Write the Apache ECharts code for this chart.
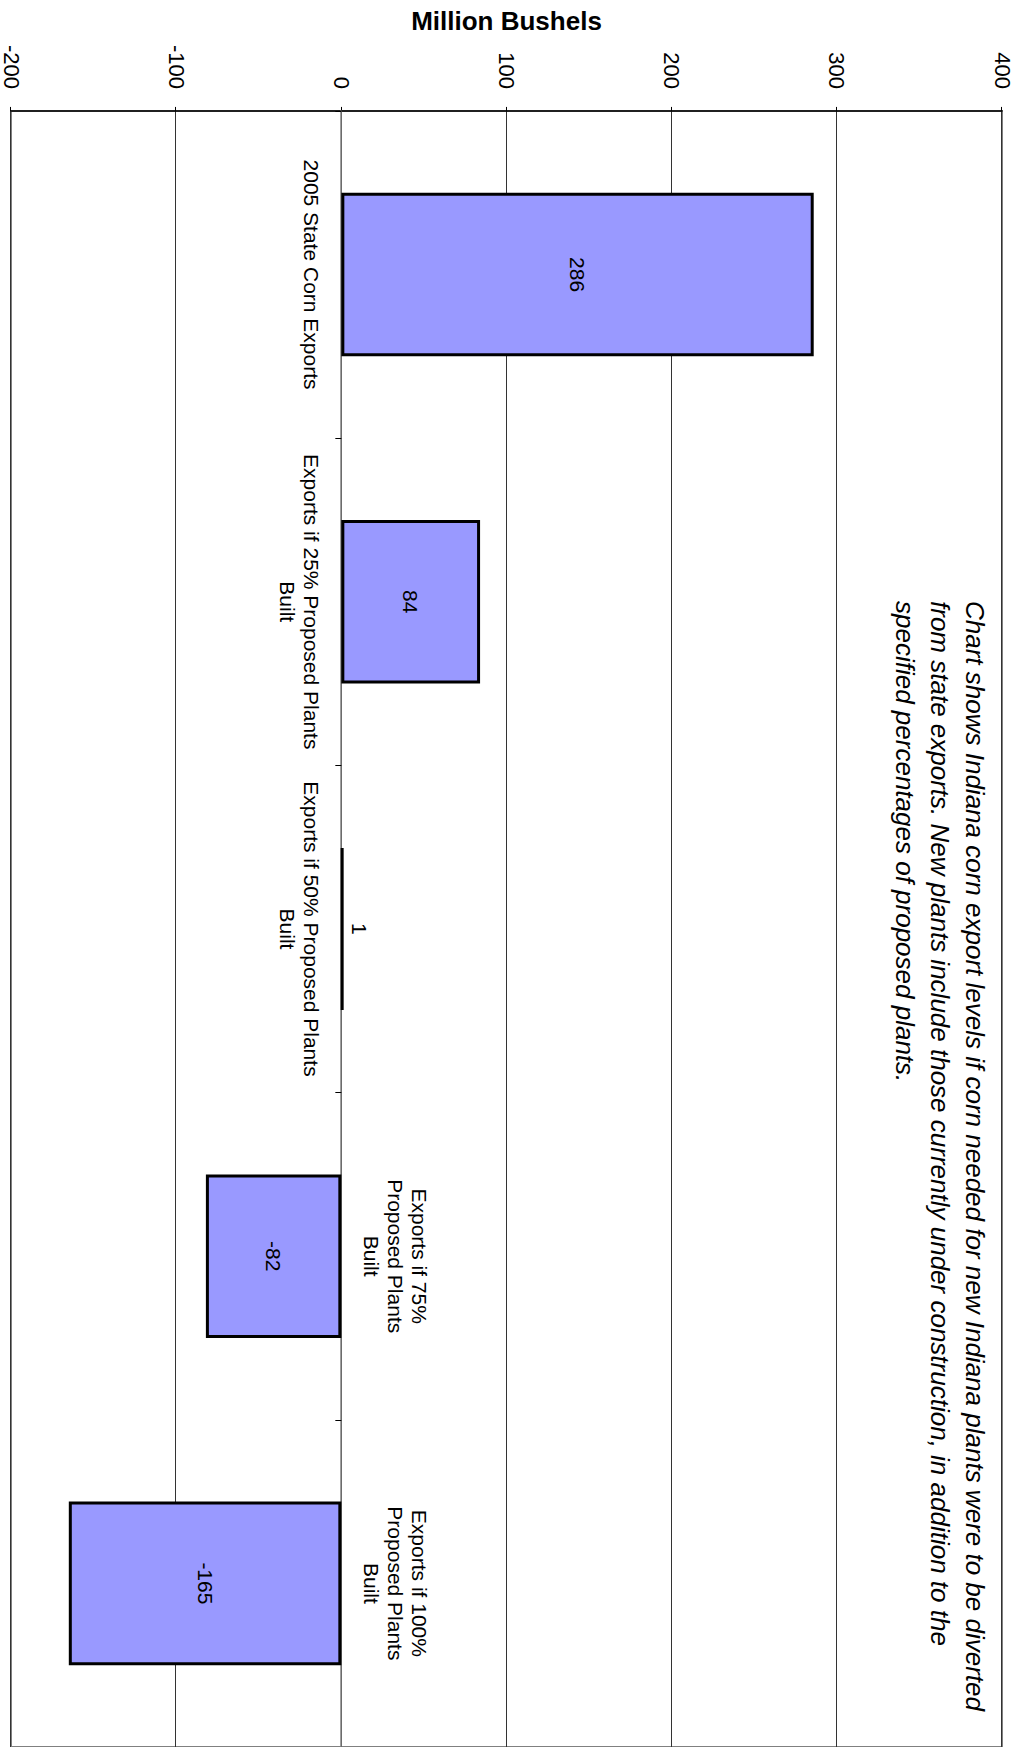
<!DOCTYPE html>
<html><head><meta charset="utf-8">
<script src="https://cdn.jsdelivr.net/npm/echarts@6/dist/echarts.min.js"></script>
<style>
html,body{margin:0;padding:0;background:#fff;overflow:hidden;width:1022px;height:1747px;}
#wrap{position:absolute;left:0;top:0;width:1747px;height:1022px;transform-origin:0 0;transform:translateX(1022px) rotate(90deg);}
</style></head><body>
<div id="wrap"></div>
<script>
// ---- data ----
const categories = [
  '2005 State Corn Exports',
  'Exports if 25% Proposed Plants\nBuilt',
  'Exports if 50% Proposed Plants\nBuilt',
  'Exports if 75%\nProposed Plants\nBuilt',
  'Exports if 100%\nProposed Plants\nBuilt'
];
const values = [286, 84, 1, -82, -165];
const valueMin = -200;
const valueMax = 400;
const valueInterval = 100;
const axisTitle = 'Million Bushels';
const noteLines = [
  'Chart shows Indiana corn export levels if corn needed for new Indiana plants were to be diverted',
  'from state exports. New plants include those currently under construction, in addition to the',
  'specified percentages of proposed plants.'
];

// ---- chart ----
const FONT = 'Arial, "Liberation Sans", Helvetica, sans-serif';
const chart = echarts.init(document.getElementById('wrap'), null, {renderer: 'svg', width: 1747, height: 1022});

chart.setOption({
  animation: false,
  backgroundColor: '#fff',
  textStyle: {fontFamily: FONT},
  grid: {
    left: 109, top: 20, width: 1646, height: 998,
    show: true, borderColor: '#808080', borderWidth: 2, backgroundColor: 'transparent'
  },
  xAxis: {
    type: 'category',
    data: categories,
    z: 1,
    axisLine: {show: true, onZero: true, lineStyle: {color: '#808080', width: 1.5}},
    axisTick: {show: true, length: 6, lineStyle: {color: '#000', width: 1}},
    axisLabel: {show: false},
    splitLine: {show: false}
  },
  yAxis: {
    type: 'value',
    min: valueMin, max: valueMax, interval: valueInterval,
    position: 'left',
    name: axisTitle,
    nameLocation: 'middle',
    nameGap: 75,
    nameTextStyle: {fontSize: 26, fontWeight: 'bold', color: '#000', fontFamily: FONT},
    axisLine: {show: true, lineStyle: {color: '#000', width: 1.5}},
    axisTick: {show: true, length: 4, lineStyle: {color: '#000'}},
    axisLabel: {fontSize: 22, margin: 22, color: '#000', fontFamily: FONT},
    splitLine: {show: true, lineStyle: {color: '#333', width: 1}}
  },
  series: [
    {
      type: 'bar',
      barWidth: '50%',
      data: values.map(v => ({value: v, label: {position: Math.abs(v) < 10 ? 'top' : 'inside'}})),
      itemStyle: {color: '#9999FF', borderColor: '#000', borderWidth: 3},
      label: {show: true, fontSize: 21, color: '#000', fontFamily: FONT, distance: 5}
    },
    {
      type: 'scatter',
      silent: true,
      symbol: 'circle',
      symbolSize: 0.01,
      itemStyle: {color: '#000', opacity: 1},
      data: categories.map((c, i) => ({value: [i, 0], label: {position: values[i] >= 0 ? 'bottom' : 'top'}})),
      label: {
        show: true,
        formatter: p => categories[p.dataIndex],
        fontSize: 21, lineHeight: 24, color: '#000', opacity: 1, fontFamily: FONT, distance: 18, align: 'center'
      }
    }
  ],
  graphic: [{
    type: 'text',
    left: 601, top: 30,
    silent: true,
    style: {
      text: noteLines.join('\n'),
      font: 'italic 26px ' + FONT,
      lineHeight: 35,
      fill: '#000'
    }
  }]
});
</script>
</body></html>
